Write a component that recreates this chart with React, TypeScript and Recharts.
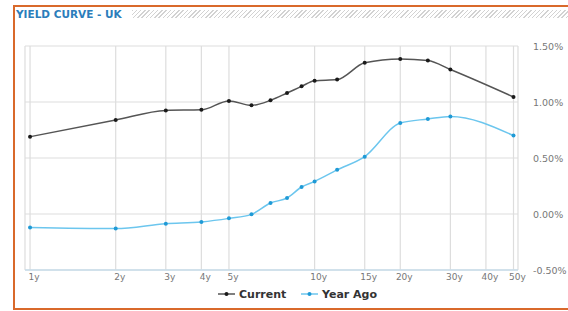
import React from "react";
import { LineChart, Line, XAxis, YAxis, CartesianGrid, Legend } from "recharts";

const maturities = [1, 2, 3, 4, 5, 6, 7, 8, 9, 10, 12, 15, 20, 25, 30, 50];
const currentYields = [0.69, 0.84, 0.925, 0.93, 1.01, 0.97, 1.015, 1.08, 1.14, 1.19, 1.2, 1.35, 1.385, 1.37, 1.29, 1.045];
const yearAgoYields = [-0.12, -0.13, -0.087, -0.071, -0.039, -0.003, 0.098, 0.143, 0.241, 0.291, 0.394, 0.512, 0.8125, 0.848, 0.871, 0.7];
const xTicks = [1, 2, 3, 4, 5, 10, 15, 20, 30, 40, 50];
const yTicks = [-0.5, 0, 0.5, 1, 1.5];
const seriesNames = ["Current", "Year Ago"];

const data = maturities.map((m, i) => ({ m, current: currentYields[i], yearAgo: yearAgoYields[i] }));

const FONT = "'DejaVu Sans', Verdana, sans-serif";
const CUR_LINE = "#555555";
const CUR_DOT = "#1a1a1a";
const YA_LINE = "#6cc6ee";
const YA_DOT = "#1f9ad6";

const XTick = (props: any) => {
  const { x, y, payload } = props;
  return (
    <text x={x + 4} y={y + 10} textAnchor="middle" fontSize={9} fontFamily={FONT} fill="#777">
      {payload.value + "y"}
    </text>
  );
};

const YTick = (props: any) => {
  const { x, y, payload } = props;
  return (
    <text x={x} y={y + 3.5} textAnchor="start" fontSize={9.5} fontFamily={FONT} fill="#777">
      {payload.value.toFixed(2) + "%"}
    </text>
  );
};

const LegendContent = () => {
  const items = [
    { name: seriesNames[0], line: CUR_LINE, dot: CUR_DOT, x: 218 },
    { name: seriesNames[1], line: YA_LINE, dot: YA_DOT, x: 301 },
  ];
  return (
    <svg width={568} height={20} style={{ display: "block" }}>
      {items.map((it) => (
        <g key={it.name}>
          <line x1={it.x} x2={it.x + 17} y1={9} y2={9} stroke={it.line} strokeWidth={1.5} />
          <circle cx={it.x + 8.5} cy={9} r={2} fill={it.dot} />
          <text x={it.x + 21} y={13} fontSize={11} fontWeight="bold" fontFamily={FONT} fill="#333">
            {it.name}
          </text>
        </g>
      ))}
    </svg>
  );
};

export default function App() {
  return (
    <div style={{ position: "absolute", left: 0, top: 0, width: 568, height: 311, overflow: "hidden", background: "#fff" }}>
      <div
        style={{
          position: "absolute",
          left: 13,
          top: 5,
          width: 620,
          height: 301,
          border: "2px solid #d9692b",
        }}
      />
      <div
        style={{
          position: "absolute",
          left: 16,
          top: 9,
          fontFamily: FONT,
          fontWeight: "bold",
          fontSize: 10.5,
          color: "#2b7dbb",
          whiteSpace: "nowrap",
          lineHeight: "11px",
        }}
      >
        YIELD CURVE - UK
      </div>
      <div
        style={{
          position: "absolute",
          left: 132,
          top: 10,
          width: 440,
          height: 8,
          background: "repeating-linear-gradient(135deg, #d2d2d2 0px, #d2d2d2 1px, #ffffff 1px, #ffffff 3px)",
        }}
      />
      <div style={{ position: "absolute", left: 0, top: 0 }}>
        <LineChart width={568} height={311} data={data} margin={{ top: 46, right: 0, bottom: 21, left: 25 }}>
          <CartesianGrid stroke="#dddddd" strokeWidth={1.2} ticks={xTicks} />
          <XAxis
            dataKey="m"
            type="number"
            scale="log"
            domain={[0.96, 51.85]}
            allowDataOverflow
            ticks={xTicks}
            interval={0}
            height={20}
            tickLine={false}
            tickSize={0}
            tickMargin={0}
            axisLine={{ stroke: "#c7dcea", strokeWidth: 1.5 }}
            tick={<XTick />}
          />
          <YAxis
            orientation="right"
            type="number"
            domain={[-0.5, 1.5]}
            ticks={yTicks}
            interval={0}
            width={50}
            tickLine={false}
            axisLine={false}
            tickSize={0}
            tickMargin={15}
            tick={<YTick />}
          />
          <Legend verticalAlign="middle" layout="horizontal" content={<LegendContent />} wrapperStyle={{ top: 285, left: 0, width: 568 }} />
          <Line
            type="monotone"
            dataKey="current"
            name={seriesNames[0]}
            stroke={CUR_LINE}
            strokeWidth={1.5}
            dot={{ r: 2, fill: CUR_DOT, stroke: CUR_DOT, strokeWidth: 0 }}
            activeDot={false}
            isAnimationActive={false}
          />
          <Line
            type="monotone"
            dataKey="yearAgo"
            name={seriesNames[1]}
            stroke={YA_LINE}
            strokeWidth={1.5}
            dot={{ r: 2, fill: YA_DOT, stroke: YA_DOT, strokeWidth: 0 }}
            activeDot={false}
            isAnimationActive={false}
          />
        </LineChart>
      </div>
    </div>
  );
}
